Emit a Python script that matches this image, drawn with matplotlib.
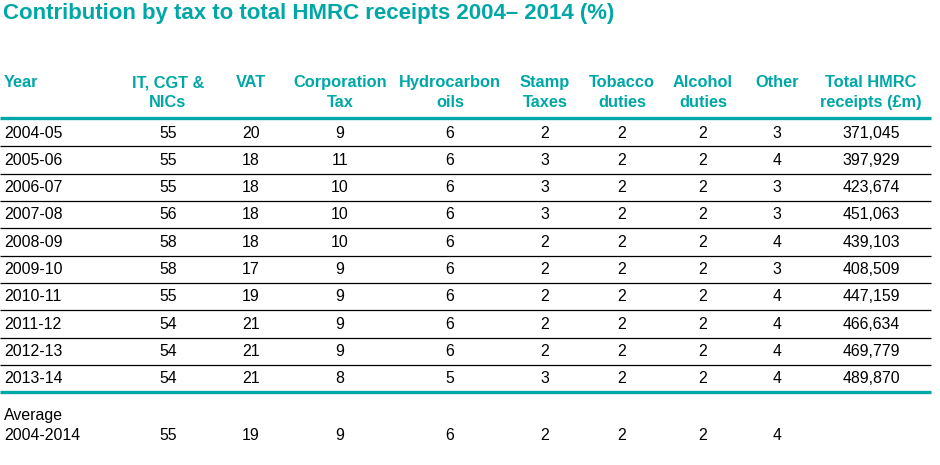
import matplotlib.pyplot as plt

plt.rcParams['font.family'] = ['Liberation Sans', 'DejaVu Sans']

TEAL = "#00a7a7"

title = "Contribution by tax to total HMRC receipts 2004\u2013 2014 (%)"

headers = ["IT, CGT &\nNICs", "VAT", "Corporation\nTax", "Hydrocarbon\noils",
           "Stamp\nTaxes", "Tobacco\nduties", "Alcohol\nduties", "Other",
           "Total HMRC\nreceipts (£m)"]

years = ["2004-05", "2005-06", "2006-07", "2007-08", "2008-09",
         "2009-10", "2010-11", "2011-12", "2012-13", "2013-14"]

it_cgt_nics = [55, 55, 55, 56, 58, 58, 55, 54, 54, 54]
vat = [20, 18, 18, 18, 18, 17, 19, 21, 21, 21]
corporation = [9, 11, 10, 10, 10, 9, 9, 9, 9, 8]
hydrocarbon = [6, 6, 6, 6, 6, 6, 6, 6, 6, 5]
stamp = [2, 3, 3, 3, 2, 2, 2, 2, 2, 3]
tobacco = [2, 2, 2, 2, 2, 2, 2, 2, 2, 2]
alcohol = [2, 2, 2, 2, 2, 2, 2, 2, 2, 2]
other = [3, 4, 3, 3, 4, 3, 4, 4, 4, 4]
total_receipts = [371045, 397929, 423674, 451063, 439103,
                  408509, 447159, 466634, 469779, 489870]

average = [55, 19, 9, 6, 2, 2, 2, 4]

# layout in pixel coordinates
col_x = [168, 251, 340, 450, 545, 622, 703, 777, 871]
row_y0 = 133
row_step = 27.3

fig = plt.figure(figsize=(9.4, 4.65), dpi=100)
ax = fig.add_axes([0, 0, 1, 1])
ax.set_xlim(0, 940)
ax.set_ylim(465, 0)
ax.axis("off")

ax.text(3, 14, title, color=TEAL, fontsize=16, fontweight="bold",
        ha="left", va="center")

# header
ax.text(4, 75, "Year", color=TEAL, fontsize=11.8, fontweight="bold",
        ha="left", va="top")
for x, h in zip(col_x, headers):
    ax.text(x, 75, h, color=TEAL, fontsize=11.8, fontweight="bold",
            ha="center", va="top", linespacing=1.4)
ax.hlines(118, 0, 931, color=TEAL, lw=2.4)

# rows
for i, yr in enumerate(years):
    y = row_y0 + i * row_step
    vals = [it_cgt_nics[i], vat[i], corporation[i], hydrocarbon[i], stamp[i],
            tobacco[i], alcohol[i], other[i], f"{total_receipts[i]:,}"]
    ax.text(4, y, yr, fontsize=11.4, ha="left", va="center")
    for x, v in zip(col_x, vals):
        ax.text(x, y, str(v), fontsize=11.4, ha="center", va="center")
    if i < len(years) - 1:
        ax.hlines(y + 13.5, 0, 931, color="black", lw=0.9)
ax.hlines(row_y0 + 9 * row_step + 13, 0, 931, color=TEAL, lw=2.4)

# average row
ax.text(4, 415, "Average", fontsize=11.4, ha="left", va="center")
ax.text(4, 435, "2004-2014", fontsize=11.4, ha="left", va="center")
for x, v in zip(col_x, average):
    ax.text(x, 435, str(v), fontsize=11.4, ha="center", va="center")

fig.savefig("out.png", dpi=100)
